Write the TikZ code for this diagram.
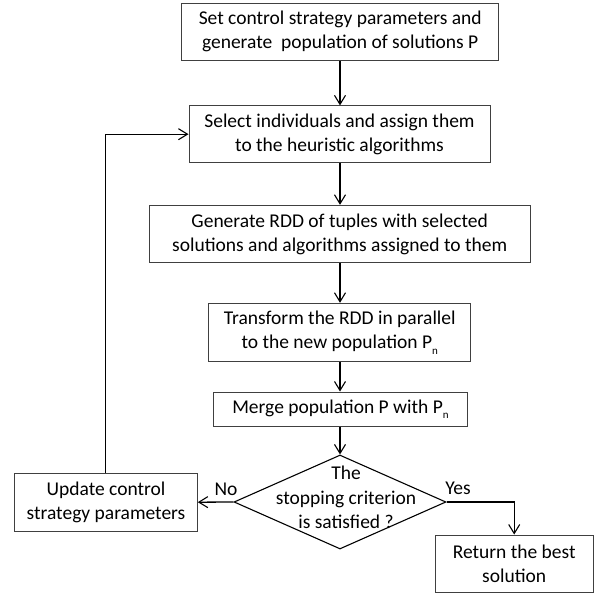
\documentclass[tikz,border=0pt]{standalone}
\usepackage{fontspec}
\setmainfont{Carlito}
\usetikzlibrary{arrows.meta,shapes.geometric}
\newcommand{\subn}{\raisebox{-0.28em}{\fontsize{11}{11}\selectfont n}}
\tikzset{
  procbox/.style={draw=black!75, line width=1pt, fill=white, align=center, inner sep=0pt,
    font=\fontsize{19.5}{24}\selectfont},
  decbox/.style={draw=black, line width=1.1pt, diamond, inner sep=0pt},
  lbl/.style={font=\fontsize{19.5}{24.5}\selectfont, inner sep=0pt},
  conn/.style={draw=black, line width=1.3pt, -{Straight Barb[length=9pt,width=11pt,line width=1.1pt]}}
}
\begin{document}
\begin{tikzpicture}[x=1pt,y=-1pt]
\useasboundingbox (0,0) rectangle (598,594);
\node[procbox, minimum width=317, minimum height=57] (b1) at (340.2,31.8)
  {Set control strategy parameters and\\generate\ \ population of solutions P};
\node[procbox, minimum width=301, minimum height=56.6] (b2) at (339.5,134.2)
  {Select individuals and assign them\\to the heuristic algorithms};
\node[procbox, minimum width=381, minimum height=57.4] (b3) at (339.7,234)
  {Generate RDD of tuples with selected\\solutions and algorithms assigned to them};
\node[procbox, minimum width=261.7, minimum height=58.4] (b4) at (339.8,332.5)
  {Transform the RDD in parallel\\to the new population P\subn};
\node[procbox, minimum width=254.4, minimum height=34] (b5) at (340.5,409)
  {Merge population P with P\subn};
\node[decbox, minimum width=212, minimum height=94] (dec) at (340,502) {};
\node[lbl, align=center] (dect) at (346,497.5) {The\\stopping criterion\\is satisfied ?};
\node[procbox, minimum width=182.6, minimum height=57.7] (upd) at (106,502.2)
  {Update control\\strategy parameters};
\node[procbox, minimum width=158.3, minimum height=57.3] (ret) at (514.2,563.7)
  {Return the best\\solution};
\node[lbl, anchor=base] (no) at (226,495) {No};
\node[lbl, anchor=base] (yes) at (458,494) {Yes};
\coordinate (c1) at (105.3,134.2);
\coordinate (c2) at (514.2,502);
\draw[conn] (b1.south -| dec.north) -- (b2.north -| dec.north);
\draw[conn] (b2.south -| dec.north) -- (b3.north -| dec.north);
\draw[conn] (b3.south -| dec.north) -- (b4.north -| dec.north);
\draw[conn] (b4.south -| dec.north) -- (b5.north -| dec.north);
\draw[conn] (b5.south -| dec.north) -- (dec.north);
\draw[conn] (dec.west) -- (upd.east);
\draw[conn] (dec.east) -- (c2) -- (ret.north);
\draw[conn] (upd.north -| c1) -- (c1) -- (b2.west);
\end{tikzpicture}
\end{document}
